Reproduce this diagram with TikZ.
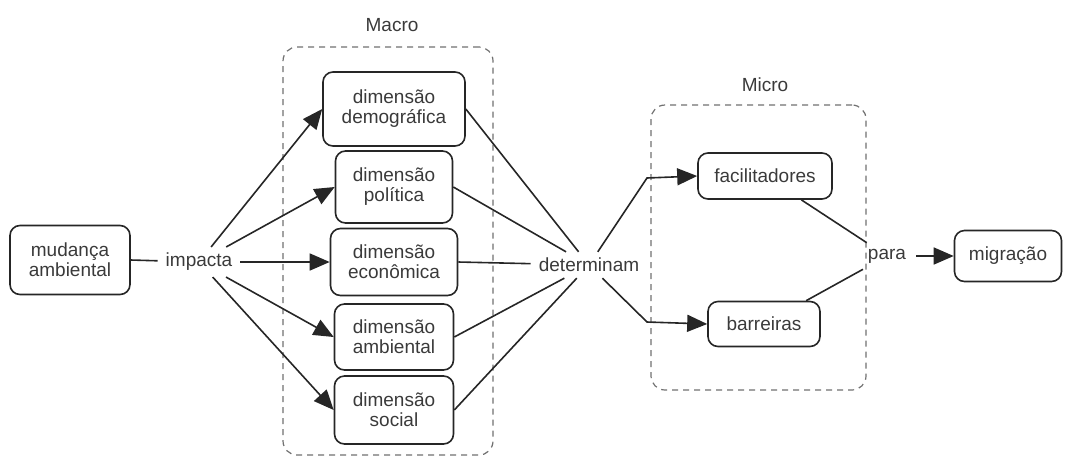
\documentclass[tikz,border=0pt]{standalone}
\usepackage{fontspec}
\setmainfont{Liberation Sans}
\usetikzlibrary{arrows.meta, shapes, calc, positioning}
\usepackage{xcolor}
\definecolor{linegray}{HTML}{262626}
\definecolor{textgray}{HTML}{3A3A3A}
\definecolor{dashgray}{HTML}{707070}

\begin{document}
\begin{tikzpicture}[x=1pt, y=-1pt,
    font=\fontsize{19}{20}\selectfont, text=textgray,
    box/.style={draw=linegray, line width=1.6pt, rounded corners=10pt, align=center, inner sep=2pt},
    lbl/.style={inner xsep=8pt, inner ysep=6pt},
    group/.style={draw=dashgray, line width=1.2pt, dash pattern=on 6pt off 5pt, rounded corners=14pt},
    link/.style={draw=linegray, line width=1.6pt},
    arr/.style={link, -{Triangle[length=20pt, width=17pt]}}]
  \useasboundingbox (0,0) rectangle (1065,459);

  % dashed groups
  \node[group, minimum width=210pt, minimum height=408pt] (macro) at (388,251) {};
  \node (macrolbl) at (392,25) {Macro};
  \node[group, minimum width=215pt, minimum height=285pt] (micro) at (758.5,247.5) {};
  \node (microlbl) at (765,85) {Micro};

  % boxes
  \node[box, minimum width=120pt, minimum height=69pt] (mud) at (70,260) {mudança\\ambiental};
  \node[box, minimum width=142pt, minimum height=74pt] (dem) at (394,109) {dimensão\\demográfica};
  \node[box, minimum width=117pt, minimum height=72pt] (pol) at (394,187) {dimensão\\política};
  \node[box, minimum width=127pt, minimum height=67pt] (eco) at (394,262) {dimensão\\econômica};
  \node[box, minimum width=119pt, minimum height=66pt] (amb) at (394,337) {dimensão\\ambiental};
  \node[box, minimum width=119pt, minimum height=68pt] (soc) at (394,410) {dimensão\\social};
  \node[box, minimum width=134pt, minimum height=46pt] (fac) at (765,176) {facilitadores};
  \node[box, minimum width=112pt, minimum height=45pt] (bar) at (764,324) {barreiras};
  \node[box, minimum width=107pt, minimum height=51pt] (mig) at (1008,256) {migração};

  % edge labels
  \node[lbl] (imp) at (199,262) {impacta};
  \node[lbl] (det) at (589,265) {determinam};
  \node[lbl, inner xsep=10pt] (para) at (887,256) {para};
  \coordinate (upbend) at (647,178);
  \coordinate (lowbend) at (647,322);

  % connectors
  \draw[link] (mud.east) -- (imp);
  \foreach \d in {dem, pol, eco, amb, soc} {
    \draw[arr] (imp) -- (\d.west);
    \draw[link] (\d.east) -- (det);
  }
  \draw[arr] (det) -- (upbend) -- (fac.west);
  \draw[arr] (det) -- (lowbend) -- (bar.west);
  \draw[link] (fac) -- (para);
  \draw[link] (bar) -- (para);
  \draw[arr] (para) -- (mig.west);
\end{tikzpicture}
\end{document}
